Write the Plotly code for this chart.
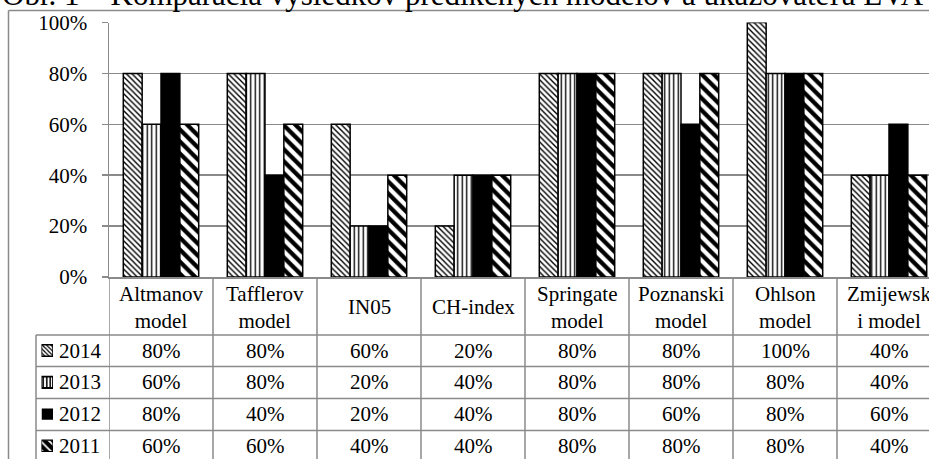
import plotly.graph_objects as go

# ---------------- data ----------------
categories = ["Altmanov model", "Tafflerov model", "IN05", "CH-index",
              "Springate model", "Poznanski model", "Ohlson model", "Zmijewski model"]
header_labels = ["Altmanov<br>model", "Tafflerov<br>model", "IN05", "CH-index",
                 "Springate<br>model", "Poznanski<br>model", "Ohlson<br>model", "Zmijewsk<br>i model"]
years = ["2014", "2013", "2012", "2011"]
v2014 = [0.80, 0.80, 0.60, 0.20, 0.80, 0.80, 1.00, 0.40]
v2013 = [0.60, 0.80, 0.20, 0.40, 0.80, 0.80, 0.80, 0.40]
v2012 = [0.80, 0.40, 0.20, 0.40, 0.80, 0.60, 0.80, 0.60]
v2011 = [0.60, 0.60, 0.40, 0.40, 0.80, 0.80, 0.80, 0.40]
series = [v2014, v2013, v2012, v2011]
y_ticks = [0, 0.2, 0.4, 0.6, 0.8, 1.0]
title_text = "Obr. 1 – Komparácia výsledkov predikčných modelov a ukazovateľa EVA"

# ---------------- layout helpers ----------------
W, H = 929, 459
def PX(x):
    return x / W
def PY(y):
    return (H - y) / H

FONT = "Liberation Serif"
FS = 21
GRID = "#8a8a8a"
x_idx = list(range(len(categories)))

styles = [
    dict(color="white", line=dict(color="black", width=1.5),
         pattern=dict(shape="\\", size=4, solidity=0.35, fgcolor="black", bgcolor="white")),
    dict(color="white", line=dict(color="black", width=1.5),
         pattern=dict(shape="|", size=4.5, solidity=0.3, fgcolor="black", bgcolor="white")),
    dict(color="black", line=dict(color="black", width=1.5)),
    dict(color="white", line=dict(color="black", width=1.5),
         pattern=dict(shape="\\", size=8.5, solidity=0.5, fgcolor="black", bgcolor="white")),
]
swatch_styles = [
    dict(color="white", line=dict(color="black", width=1.5),
         pattern=dict(shape="\\", size=3, solidity=0.4, fgcolor="black", bgcolor="white")),
    dict(color="white", line=dict(color="black", width=1.8),
         pattern=dict(shape="|", size=3.5, solidity=0.45, fgcolor="black", bgcolor="white")),
    dict(color="black", line=dict(color="black", width=0)),
    dict(color="black", line=dict(color="black", width=1.2),
         pattern=dict(shape="\\", size=6, solidity=0.3, fgcolor="white", bgcolor="black")),
]

fig = go.Figure()
for name, vals, st in zip(years, series, styles):
    fig.add_trace(go.Bar(x=x_idx, y=vals, name=name, marker=st, showlegend=False,
                         xaxis="x", yaxis="y"))

# legend swatches drawn on a tiny extra axis pair
row0, rowh = 350.5, 31.8
sw_top, sw_bot = 340, 452
for i, (name, st) in enumerate(zip(years, swatch_styles)):
    fig.add_trace(go.Bar(x=[1], y=[i], base=0, orientation="h", width=0.36,
                         marker=st, showlegend=False, xaxis="x2", yaxis="y2",
                         hoverinfo="skip"))

shapes = []
line_style = dict(color=GRID, width=1.5)
# outer frame
shapes.append(dict(type="line", xref="paper", yref="paper", x0=PX(8.5), x1=1.01,
                   y0=PY(10.5), y1=PY(10.5), line=line_style))
shapes.append(dict(type="line", xref="paper", yref="paper", x0=PX(8.5), x1=PX(8.5),
                   y0=PY(10.5), y1=PY(470), line=line_style))
# table vertical lines at category boundaries
for i in range(len(categories)):
    shapes.append(dict(type="line", xref="x", yref="paper", x0=i - 0.5, x1=i - 0.5,
                       y0=PY(277), y1=PY(470), line=line_style))
# legend column left border
shapes.append(dict(type="line", xref="paper", yref="paper", x0=PX(36), x1=PX(36),
                   y0=PY(335), y1=PY(470), line=line_style))
# table horizontal lines
for yy in [335, 366.5, 398.5, 430.5]:
    shapes.append(dict(type="line", xref="paper", yref="paper", x0=PX(36), x1=1.01,
                       y0=PY(yy), y1=PY(yy), line=line_style))

annotations = []
# title (cut off at top, as in the source)
annotations.append(dict(text=title_text, xref="paper", yref="paper", x=PX(0), y=PY(-5.5),
                        xanchor="left", yanchor="middle", showarrow=False,
                        font=dict(family=FONT, size=31, color="black")))
# header row
for i, lab in enumerate(header_labels):
    annotations.append(dict(text=lab, xref="x", yref="paper", x=i, y=PY(307),
                            xanchor="center", yanchor="middle", showarrow=False,
                            font=dict(family=FONT, size=FS, color="black")))
# value rows
for r, (name, vals) in enumerate(zip(years, series)):
    cy = row0 + rowh * r
    annotations.append(dict(text=name, xref="paper", yref="paper", x=PX(57), y=PY(cy),
                            xanchor="left", yanchor="middle", showarrow=False,
                            font=dict(family=FONT, size=FS, color="black")))
    for i, v in enumerate(vals):
        annotations.append(dict(text=f"{round(v * 100)}%", xref="x", yref="paper", x=i, y=PY(cy),
                                xanchor="center", yanchor="middle", showarrow=False,
                                font=dict(family=FONT, size=FS, color="black")))

cat_w = 104
y2_top = (sw_top - row0) / rowh
y2_bot = (sw_bot - row0) / rowh

fig.update_layout(
    template="none",
    width=W, height=H, autosize=False,
    margin=dict(l=0, r=0, t=0, b=0, pad=0),
    paper_bgcolor="white", plot_bgcolor="white",
    barmode="group", bargap=0.275, bargroupgap=0,
    font=dict(family=FONT, size=FS, color="black"),
    xaxis=dict(domain=[PX(109), 1], range=[-0.5, -0.5 + (W - 109) / cat_w],
               showticklabels=False, ticks="", showgrid=False, zeroline=False,
               showline=True, linecolor=GRID, linewidth=1.5, anchor="y", fixedrange=True,
               automargin=False),
    yaxis=dict(domain=[PY(277), PY(22.5)], range=[0, 1], tickvals=y_ticks,
               tickformat=".0%", showgrid=True, gridcolor=GRID, gridwidth=1.5,
               zeroline=False, showline=True, linecolor=GRID, linewidth=1.5,
               ticks="outside", ticklen=6, tickcolor=GRID, tickwidth=1.5,
               ticklabelstandoff=10, tickfont=dict(family=FONT, size=FS, color="black"),
               anchor="x", fixedrange=True, automargin=False),
    xaxis2=dict(domain=[PX(41.5), PX(53)], range=[0, 1], visible=False, anchor="y2",
                fixedrange=True, automargin=False),
    yaxis2=dict(domain=[PY(sw_bot), PY(sw_top)], range=[y2_bot, y2_top], visible=False,
                anchor="x2", fixedrange=True, automargin=False),
    shapes=shapes,
    annotations=annotations,
)

fig.write_html("out.html", config={"displayModeBar": False, "staticPlot": True},
               post_script="document.body.style.margin='0';document.body.style.overflow='hidden';")
